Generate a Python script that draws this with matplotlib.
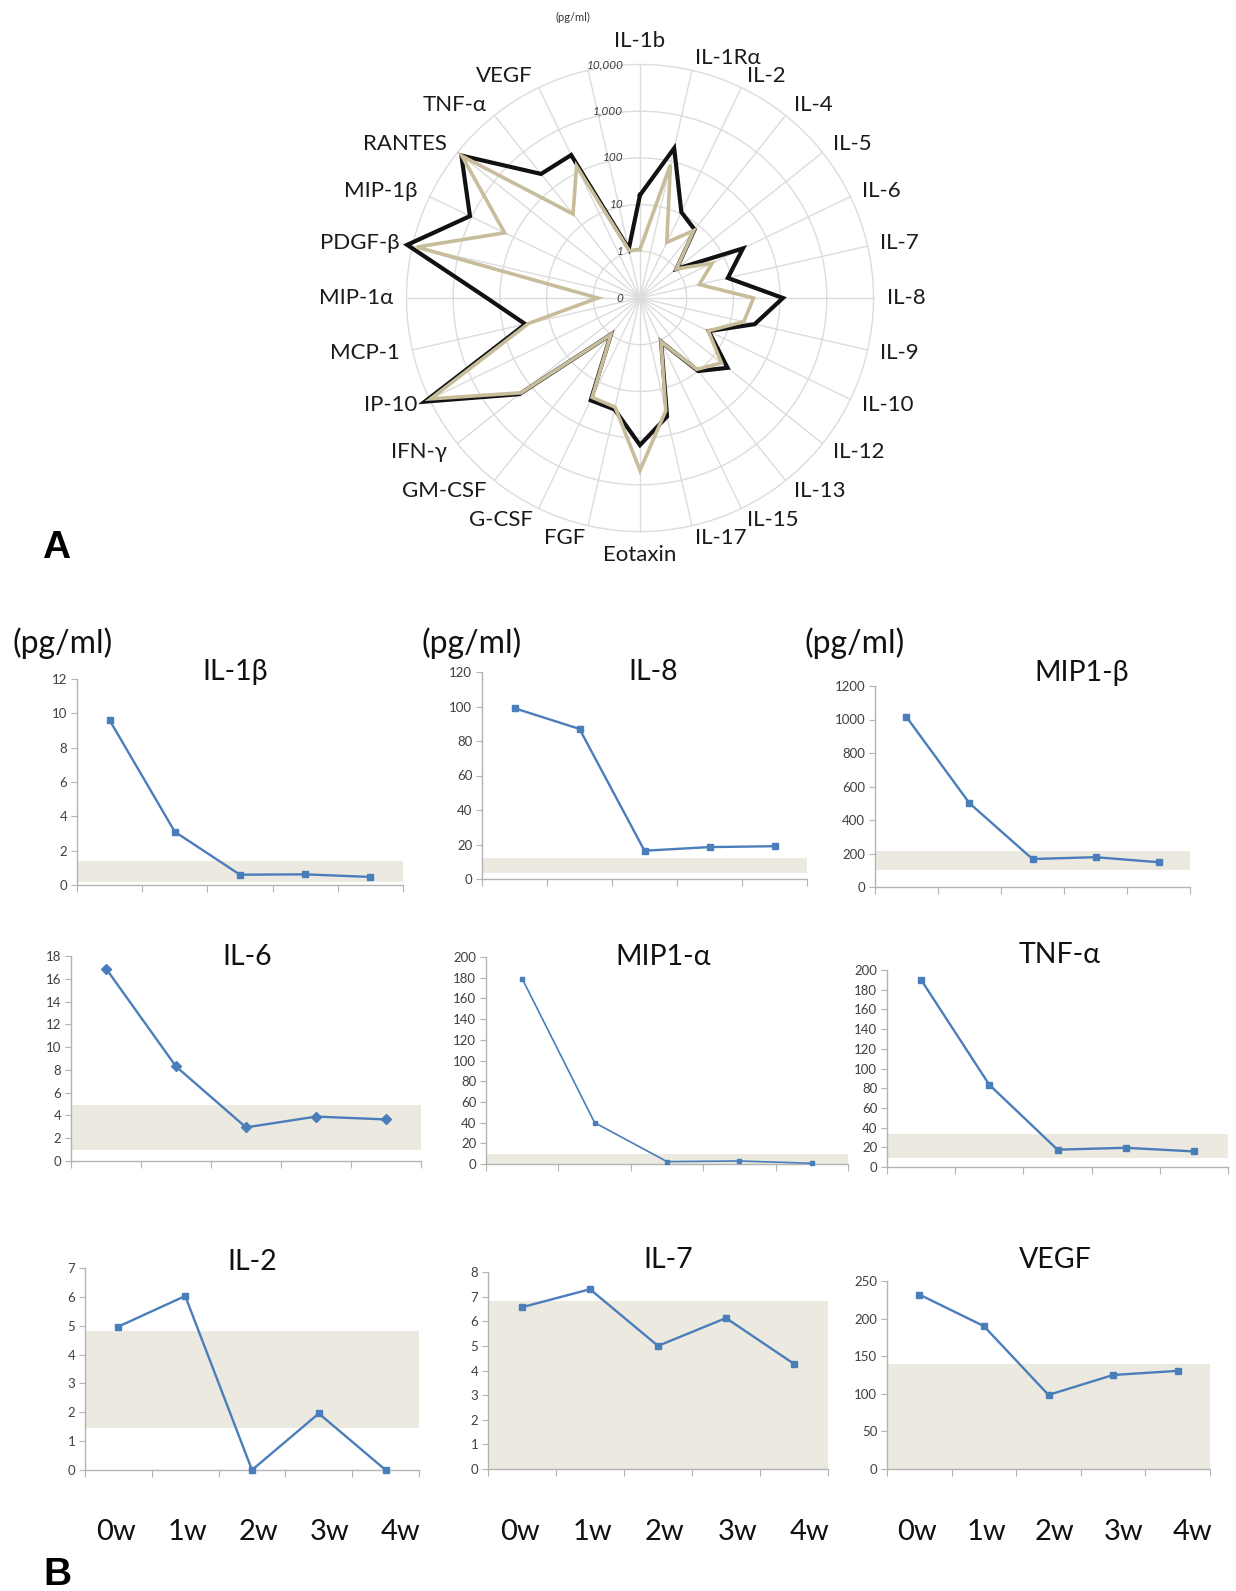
import numpy as np
import matplotlib
matplotlib.use("Agg")
import matplotlib.pyplot as plt

plt.rcParams['font.family'] = ['Lato', 'DejaVu Sans']

# ---------------- data: radar (panel A) ----------------
radar_labels = ["IL-1b", "IL-1Rα", "IL-2", "IL-4", "IL-5", "IL-6", "IL-7", "IL-8", "IL-9",
                "IL-10", "IL-12", "IL-13", "IL-15", "IL-17", "Eotaxin", "FGF", "G-CSF",
                "GM-CSF", "IFN-γ", "IP-10", "MCP-1", "MIP-1α", "PDGF-β", "MIP-1β",
                "RANTES", "TNF-α", "VEGF", ""]
radar_black = [16, 195, 11, 7.5, 1.0, 28, 8.5, 115, 33, 4.3, 25, 10, 1.1, 40, 141, 28, 27,
               1.0, 200, 13000, 33, 190, 13000, 1100, 7800, 250, 250, 1.2]
radar_tan = [1.1, 85, 2.1, 7.0, 1.0, 5.2, 2.0, 27, 19, 4.2, 17, 9, 1.1, 30, 490, 25, 23,
             1.0, 180, 9500, 28, 0.8, 8000, 165, 7500, 20, 135, 1.1]
radar_ticks = ["0", "1", "10", "100", "1,000", "10,000"]

# ---------------- data: time courses (panel B) ----------------
weeks = ["0w", "1w", "2w", "3w", "4w"]
il1b = [9.6, 3.1, 0.6, 0.62, 0.47];     il1b_band = [0.2, 1.4]
il8 = [99, 87, 16.4, 18.5, 19];         il8_band = [3.5, 12]
mip1b = [1015, 500, 167, 178, 148];     mip1b_band = [104, 215]
il6 = [16.9, 8.3, 2.95, 3.9, 3.65];     il6_band = [1.0, 4.9]
mip1a = [179, 40, 2.3, 2.9, 0.7];       mip1a_band = [0, 9.5]
tnfa = [190, 83.5, 17.6, 19.5, 15.8];   tnfa_band = [9.5, 34]
il2 = [4.97, 6.03, 0, 1.96, 0];         il2_band = [1.45, 4.83]
il7 = [6.57, 7.3, 5.0, 6.13, 4.27];     il7_band = [0, 6.82]
vegf = [232, 190, 98.5, 125, 130.5];    vegf_band = [0, 140]

W, H = 1236, 1591
fig = plt.figure(figsize=(W / 100, H / 100), dpi=100)
fig.patch.set_facecolor("white")


def add_ax(l, t, r, b, **kw):
    return fig.add_axes([l / W, 1 - b / H, (r - l) / W, (b - t) / H], **kw)


def ftext(x, y, s, **kw):
    return fig.text(x / W, 1 - y / H, s, **kw)


# ---------------- Radar ----------------
BLACK = "#111111"
TAN = "#C7BD9B"
GRID = "#DCDCDC"
cx, cy, unit = 640, 298, 46.7
RLIM = 5.3
half = RLIM * unit
rax = add_ax(cx - half, cy - half, cx + half, cy + half, projection="polar")
rax.set_theta_zero_location("N")
rax.set_theta_direction(-1)
rax.set_ylim(0, RLIM)
rax.axis("off")

n = len(radar_labels)
theta = 2 * np.pi * np.arange(n) / n
full = np.linspace(0, 2 * np.pi, 721)
for k in range(1, 6):
    rax.plot(full, np.full_like(full, k), color=GRID, lw=1.0, zorder=1)
for t in theta:
    rax.plot([t, t], [0, 5], color=GRID, lw=1.0, zorder=1)


def rad(v):
    return np.log10(np.asarray(v, float)) + 1


for vals, col, lw in [(radar_black, BLACK, 3.0), (radar_tan, TAN, 2.6)]:
    r = rad(vals)
    rax.plot(np.append(theta, theta[0]), np.append(r, r[0]), color=col, lw=lw,
             zorder=3, clip_on=False, solid_joinstyle="miter")

for k, lab in enumerate(radar_ticks):
    rax.annotate(lab, xy=(0, k), xytext=(-12, 0), textcoords="offset points",
                 ha="right", va="center", fontsize=8.5, style="italic", color="#404040",
                 annotation_clip=False)

for t, lab in zip(theta, radar_labels):
    s, c = np.sin(t), np.cos(t)
    ha = "left" if s > 0.05 else ("right" if s < -0.05 else "center")
    va = "bottom" if c > 0.99 else ("top" if c < -0.99 else "center")
    rax.text(t, 5.28, lab, ha=ha, va=va, fontsize=16, color="#1a1a1a")

ftext(573, 17, "(pg/ml)", ha="center", va="center", fontsize=8, color="#333333")
ftext(56, 548, "A", ha="center", va="center", fontsize=28, fontweight="bold",
      family="Liberation Sans")
ftext(57, 1575, "B", ha="center", va="center", fontsize=28, fontweight="bold",
      family="Liberation Sans")

# ---------------- Line panels ----------------
BLUE = "#4A7EBB"
BAND = "#ECE9E0"
AXC = "#B3B3B3"


def panel(box, vals, band, ymax, ystep, title, title_xy, marker="s", lw=1.7, ms=4.5,
          pgml=None, xlab=False):
    ax = add_ax(*box)
    x = np.arange(len(vals))
    ax.axhspan(band[0], band[1], color=BAND, lw=0, zorder=0)
    ax.plot(x, vals, color=BLUE, lw=lw, marker=marker, ms=ms, zorder=3, clip_on=False)
    ax.set_xlim(-0.5, len(vals) - 0.5)
    ax.set_ylim(0, ymax)
    ax.set_yticks(np.arange(0, ymax + ystep / 2, ystep))
    ax.set_xticks(np.arange(-0.5, len(vals), 1))
    ax.set_xticklabels([])
    for sp in ["top", "right"]:
        ax.spines[sp].set_visible(False)
    for sp in ["left", "bottom"]:
        ax.spines[sp].set_color(AXC)
        ax.spines[sp].set_linewidth(1.0)
    ax.tick_params(axis="y", direction="out", length=4, color=AXC, labelsize=9.5,
                   labelcolor="#404040", pad=3)
    ax.tick_params(axis="x", direction="out", length=5, color=AXC)
    ax.set_facecolor("none")
    ftext(title_xy[0], title_xy[1], title, ha="center", va="center", fontsize=20.5,
          color="#111111")
    if pgml is not None:
        ftext(pgml[0], pgml[1], "(pg/ml)", ha="center", va="center", fontsize=23,
              color="#111111")
    if xlab:
        for i, w in enumerate(weeks):
            ax.annotate(w, xy=(i * 1.065 - 0.03, 0), xycoords=("data", "axes fraction"),
                        xytext=(0, -45), textcoords="offset points", ha="center",
                        va="center", fontsize=21, color="#111111", annotation_clip=False)
    return ax


panel((77, 679, 403, 885), il1b, il1b_band, 12, 2, "IL-1β", (235, 672), pgml=(63, 643))
panel((482, 672, 807, 879), il8, il8_band, 120, 20, "IL-8", (653, 672), pgml=(472, 643))
panel((875, 686, 1190, 887), mip1b, mip1b_band, 1200, 200, "MIP1-β", (1082, 673),
      pgml=(855, 643))

panel((71, 956, 421, 1161), il6, il6_band, 18, 2, "IL-6", (247, 957), marker="D", ms=5)
panel((486, 957, 848, 1164), mip1a, mip1a_band, 200, 20, "MIP1-α", (663, 957), lw=1.2,
      ms=3.5)
panel((887, 970, 1228, 1167), tnfa, tnfa_band, 200, 20, "TNF-α", (1060, 955))

panel((85, 1268, 419, 1470), il2, il2_band, 7, 1, "IL-2", (252, 1262), xlab=True)
panel((488, 1272, 828, 1469), il7, il7_band, 8, 1, "IL-7", (668, 1260), xlab=True)
panel((887, 1281, 1210, 1469), vegf, vegf_band, 250, 50, "VEGF", (1055, 1260), xlab=True)

fig.savefig("out.png", dpi=100, facecolor="white")
